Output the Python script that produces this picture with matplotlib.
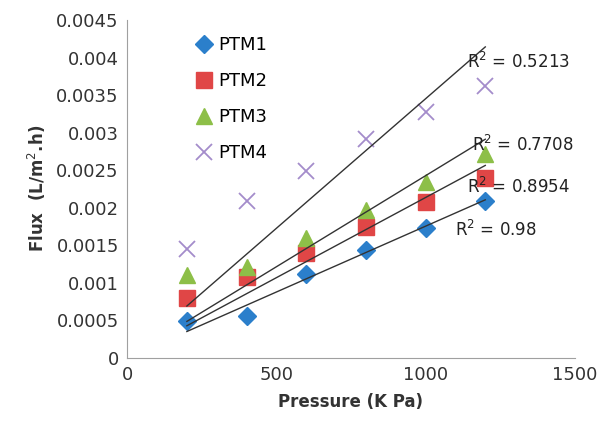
import numpy as np
import matplotlib
matplotlib.use("Agg")
import matplotlib.pyplot as plt

# data
pressure = [200, 400, 600, 800, 1000, 1200]
ptm1 = [0.00049, 0.00056, 0.00112, 0.00144, 0.00173, 0.00209]
ptm2 = [0.00080, 0.00108, 0.00140, 0.00174, 0.00207, 0.00240]
ptm3 = [0.00110, 0.00121, 0.00160, 0.00197, 0.00234, 0.00271]
ptm4 = [0.00145, 0.00209, 0.00249, 0.00291, 0.00327, 0.00362]
r2_labels = ["0.98", "0.8954", "0.7708", "0.5213"]
r2_pos = [(1100, 0.00170), (1140, 0.00227), (1155, 0.00283), (1140, 0.00394)]

plt.rcParams['font.family'] = ['DejaVu Sans']

fig = plt.figure(figsize=(6, 4.25), dpi=100)
ax = fig.add_axes([0.212, 0.158, 0.746, 0.795])

styles = [
    ("PTM1", ptm1, "D", "#2b7fcb", 9),
    ("PTM2", ptm2, "s", "#e04646", 11),
    ("PTM3", ptm3, "^", "#8dbf48", 11),
    ("PTM4", ptm4, "x", "#a48ccb", 12),
]

x = np.array(pressure, dtype=float)
for (name, vals, mk, col, ms), lab, pos in zip(styles, r2_labels, r2_pos):
    y = np.array(vals)
    if mk == "x":
        ax.plot(x, y, linestyle="none", marker=mk, color=col, markersize=ms,
                markeredgewidth=1.3, label=name, zorder=3)
    else:
        ax.plot(x, y, linestyle="none", marker=mk, color=col, markersize=ms,
                label=name, zorder=3)
    # linear trendline through the origin
    slope = np.sum(x * y) / np.sum(x * x)
    ax.plot([x[0], x[-1]], [slope * x[0], slope * x[-1]], color="#333333",
            linewidth=1.0, zorder=4)
    ax.text(pos[0], pos[1], "R$^2$ = " + lab, fontsize=12, color="#222222",
            va="center", ha="left", zorder=5)

ax.set_xlim(0, 1500)
ax.set_ylim(0, 0.0045)
ax.set_xticks([0, 500, 1000, 1500])
ax.set_yticks(np.arange(0, 0.00451, 0.0005))
ax.set_yticklabels(["0", "0.0005", "0.001", "0.0015", "0.002", "0.0025",
                    "0.003", "0.0035", "0.004", "0.0045"])
ax.tick_params(length=0, labelsize=13, colors="#333333", pad=6)
for s in ["top", "right"]:
    ax.spines[s].set_visible(False)
for s in ["left", "bottom"]:
    ax.spines[s].set_color("#a0a0a0")

ax.set_xlabel("Pressure (K Pa)", fontsize=12, fontweight="bold", color="#333333",
              labelpad=6)
ax.set_ylabel("Flux  (L/m$^2$.h)", fontsize=12, fontweight="bold", color="#333333",
              labelpad=6)

ax.legend(loc="upper left", bbox_to_anchor=(0.11, 1.0), frameon=False,
          fontsize=13, handletextpad=0.2, labelspacing=1.0, handlelength=1.2)

fig.savefig("out.png", dpi=100)
